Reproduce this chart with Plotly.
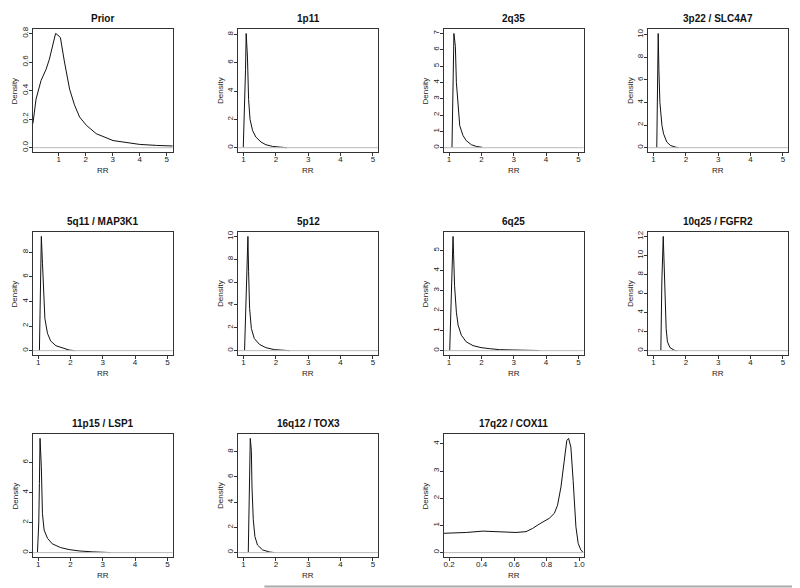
import plotly.graph_objects as go

OFF = 8  # page body margin
W, H = 800 - OFF, 588 - OFF

titles = ["Prior", "1p11", "2q35", "3p22 / SLC4A7",
          "5q11 / MAP3K1", "5p12", "6q25", "10q25 / FGFR2",
          "11p15 / LSP1", "16q12 / TOX3", "17q22 / COX11"]

prior_x = [0.04, 0.155, 0.34, 0.53, 0.65, 0.78, 0.88, 0.96, 1.06, 1.21, 1.40, 1.58, 1.77, 2.02, 2.39, 3.01, 3.51, 4.0, 4.63, 5.24]
prior_y = [0.17, 0.34, 0.47, 0.55, 0.62, 0.72, 0.80, 0.79, 0.77, 0.60, 0.41, 0.30, 0.215, 0.157, 0.098, 0.05, 0.035, 0.023, 0.016, 0.012]

p1p11_x = [0.99, 1.01, 1.04, 1.06, 1.08, 1.12, 1.155, 1.20, 1.28, 1.38, 1.54, 1.69, 1.90, 2.10, 2.33]
p1p11_y = [0.0, 1.3, 3.2, 5.5, 8.07, 6.4, 3.4, 2.0, 1.2, 0.75, 0.4, 0.21, 0.09, 0.05, 0.0]

p2q35_x = [1.09, 1.10, 1.12, 1.14, 1.15, 1.195, 1.226, 1.28, 1.33, 1.43, 1.53, 1.69, 1.84, 2.03]
p2q35_y = [0.0, 0.85, 2.2, 5.8, 7.0, 6.2, 4.0, 2.36, 1.35, 0.75, 0.44, 0.18, 0.08, 0.02]

p3p22_x = [1.10, 1.11, 1.12, 1.134, 1.144, 1.165, 1.196, 1.26, 1.31, 1.41, 1.52, 1.67, 1.77]
p3p22_y = [0.0, 2.5, 5.2, 8.4, 10.1, 6.9, 4.0, 1.96, 1.23, 0.5, 0.2, 0.06, 0.0]

p5q11_x = [1.04, 1.05, 1.07, 1.09, 1.10, 1.135, 1.166, 1.21, 1.29, 1.39, 1.55, 1.76, 1.96, 2.12]
p5q11_y = [0.0, 1.3, 3.9, 7.1, 9.28, 7.1, 4.5, 2.6, 1.4, 0.78, 0.4, 0.19, 0.05, 0.0]

p5p12_x = [1.03, 1.05, 1.08, 1.11, 1.134, 1.155, 1.186, 1.24, 1.33, 1.49, 1.69, 1.95, 2.21, 2.42]
p5p12_y = [0.0, 1.9, 5.7, 9.2, 10.0, 6.9, 3.7, 1.94, 1.07, 0.55, 0.26, 0.09, 0.03, 0.0]

p6q25_x = [1.02, 1.07, 1.123, 1.14, 1.17, 1.226, 1.28, 1.38, 1.53, 1.74, 1.99, 2.25, 2.56, 2.97, 3.38, 3.79]
p6q25_y = [0.0, 3.24, 5.7, 4.8, 3.24, 1.92, 1.27, 0.77, 0.44, 0.25, 0.15, 0.10, 0.05, 0.033, 0.016, 0.005]

p10q25_x = [1.226, 1.256, 1.30, 1.33, 1.36, 1.39, 1.43, 1.51, 1.65, 1.72]
p10q25_y = [0.0, 7.2, 12.0, 8.9, 5.1, 2.3, 0.93, 0.31, 0.03, 0.0]

p11p15_x = [0.98, 1.02, 1.04, 1.06, 1.10, 1.134, 1.186, 1.29, 1.44, 1.70, 1.96, 2.27, 2.68, 3.09, 3.25]
p11p15_y = [0.0, 1.96, 4.6, 7.6, 5.7, 2.6, 1.5, 0.95, 0.58, 0.33, 0.2, 0.11, 0.05, 0.02, 0.0]

p16q12_x = [1.145, 1.165, 1.186, 1.207, 1.24, 1.26, 1.30, 1.35, 1.43, 1.59, 1.80, 1.95]
p16q12_y = [0.0, 2.06, 6.0, 9.05, 8.1, 5.2, 2.6, 1.27, 0.6, 0.21, 0.05, 0.0]

p17q22_x = [0.169, 0.306, 0.408, 0.51, 0.612, 0.673, 0.714, 0.755, 0.816, 0.847, 0.867, 0.888, 0.908, 0.924, 0.935, 0.949, 0.963, 0.98, 0.994, 1.01, 1.024]
p17q22_y = [0.71, 0.74, 0.79, 0.77, 0.74, 0.77, 0.89, 1.05, 1.26, 1.44, 1.74, 2.41, 3.39, 4.12, 4.2, 3.88, 2.66, 0.95, 0.34, 0.1, 0.01]

series = [(prior_x, prior_y), (p1p11_x, p1p11_y), (p2q35_x, p2q35_y), (p3p22_x, p3p22_y),
          (p5q11_x, p5q11_y), (p5p12_x, p5p12_y), (p6q25_x, p6q25_y), (p10q25_x, p10q25_y),
          (p11p15_x, p11p15_y), (p16q12_x, p16q12_y), (p17q22_x, p17q22_y)]

x_ranges = [[0.04, 5.22]] + [[0.84, 5.16]] * 9 + [[0.168, 1.027]]
y_dticks = [0.2, 2, 1, 2, 2, 2, 1, 2, 2, 2, 1]
x_dticks = [1] * 10 + [0.2]

col_left = [33, 239, 445, 650]
box_w = 140
row_top = [26, 230, 433]
box_h = 124

fig = go.Figure()
annotations = []
shapes = []
font_fam = "Liberation Sans, Arial, sans-serif"

for i, (xs, ys) in enumerate(series):
    r, c = divmod(i, 4)
    L = col_left[c] - OFF
    T = row_top[r] - OFF
    R = L + box_w
    B = T + box_h
    ax = "" if i == 0 else str(i + 1)
    xa = "x" + ax
    ya = "y" + ax
    fig.add_trace(go.Scatter(x=xs, y=ys, mode="lines", xaxis=xa, yaxis=ya,
                             line=dict(color="#111", width=1), showlegend=False,
                             hoverinfo="skip"))
    ymax = max(ys)
    yr = [-0.04 * ymax, ymax * 1.04]
    common = dict(showline=True, mirror=True, linecolor="#333", linewidth=1,
                  ticks="outside", ticklen=3, tickwidth=1, tickcolor="#333",
                  showgrid=False, zeroline=False,
                  tickfont=dict(family=font_fam, size=8, color="#222"))
    xfmt = ".1f" if i == 10 else "d"
    fig.layout["xaxis" + ax] = dict(domain=[L / W, R / W], range=x_ranges[i],
                                    anchor=ya, dtick=x_dticks[i], tick0=0,
                                    tickformat=xfmt, ticklabelstandoff=-4, **common)
    yfmt = ".1f" if i == 0 else "d"
    fig.layout["yaxis" + ax] = dict(domain=[1 - B / H, 1 - T / H], range=yr,
                                    anchor=xa, dtick=y_dticks[i], tick0=0,
                                    tickformat=yfmt, tickangle=-90,
                                    ticklabelstandoff=-2, **common)
    shapes.append(dict(type="line", xref=xa + " domain", yref=ya, x0=0, x1=1, y0=0, y1=0,
                       line=dict(color="#bbbbbb", width=1)))
    annotations.append(dict(text="<b>" + titles[i] + "</b>", x=(L + R) / 2 / W,
                            y=1 - (T - 10) / H, xref="paper", yref="paper",
                            showarrow=False, xanchor="center", yanchor="middle",
                            font=dict(family=font_fam, size=10, color="#111")))
    annotations.append(dict(text="Density", x=(L - 18) / W, y=1 - (T + B) / 2 / H,
                            xref="paper", yref="paper", showarrow=False, textangle=-90,
                            xanchor="center", yanchor="middle",
                            font=dict(family=font_fam, size=8, color="#222")))
    annotations.append(dict(text="RR", x=(L + R) / 2 / W, y=1 - (B + 18) / H,
                            xref="paper", yref="paper", showarrow=False,
                            xanchor="center", yanchor="middle",
                            font=dict(family=font_fam, size=8, color="#222")))

shapes.append(dict(type="line", xref="paper", yref="paper", x0=(265 - OFF) / W, x1=1,
                   y0=1 - (586.5 - OFF) / H, y1=1 - (586.5 - OFF) / H,
                   line=dict(color="#aaaaaa", width=2)))

fig.update_layout(width=W, height=H, margin=dict(l=0, r=0, t=0, b=0),
                  paper_bgcolor="white", plot_bgcolor="white",
                  annotations=annotations, shapes=shapes)

fig.write_html("out.html")
